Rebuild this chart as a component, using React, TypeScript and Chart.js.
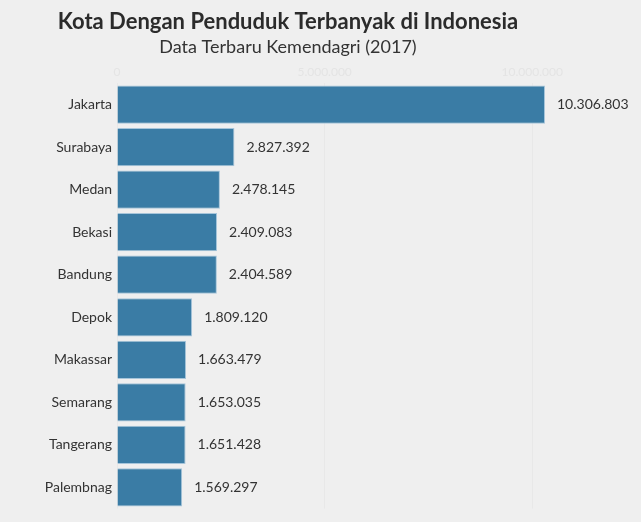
import { useEffect, useRef } from 'react';
import { Chart, registerables } from 'chart.js';

Chart.register(...registerables);

const cities = [
  'Jakarta',
  'Surabaya',
  'Medan',
  'Bekasi',
  'Bandung',
  'Depok',
  'Makassar',
  'Semarang',
  'Tangerang',
  'Palembnag',
];
const population = [
  10306803, 2827392, 2478145, 2409083, 2404589, 1809120, 1663479, 1653035, 1651428, 1569297,
];
const tickValues = [0, 5000000, 10000000];

const FONT = 'Lato, "Noto Sans", sans-serif';

// format angka gaya Indonesia: 10.306.803
const fmt = (v: number) => String(Math.round(v)).replace(/\B(?=(\d{3})+(?!\d))/g, '.');

const valueLabels = {
  id: 'valueLabels',
  afterDatasetsDraw(chart: any) {
    const ctx = chart.ctx;
    const meta = chart.getDatasetMeta(0);
    ctx.save();
    ctx.font = `14px ${FONT}`;
    ctx.fillStyle = '#333333';
    ctx.textAlign = 'left';
    ctx.textBaseline = 'middle';
    meta.data.forEach((bar: any, i: number) => {
      ctx.fillText(fmt(population[i]), bar.x + 12, bar.y);
    });
    ctx.restore();
  },
};

export default function App() {
  const chartRef = useRef<HTMLCanvasElement>(null);
  const chartInstance = useRef<Chart | null>(null);

  useEffect(() => {
    if (!chartRef.current) return;
    if (chartInstance.current) chartInstance.current.destroy();
    const ctx = chartRef.current.getContext('2d');
    if (!ctx) return;

    chartInstance.current = new Chart(ctx, {
      type: 'bar',
      data: {
        labels: cities,
        datasets: [
          {
            label: 'Penduduk',
            data: population,
            backgroundColor: '#3a7ca5',
            borderColor: '#a6c5da',
            borderWidth: 1,
            barPercentage: 1,
            categoryPercentage: 0.9,
          },
        ],
      },
      options: {
        indexAxis: 'y',
        responsive: true,
        maintainAspectRatio: false,
        animation: false,
        layout: { padding: { left: 31, right: 96, top: 9, bottom: 13 } },
        plugins: {
          legend: { display: false },
          tooltip: { enabled: false },
          title: {
            display: true,
            text: 'Kota Dengan Penduduk Terbanyak di Indonesia',
            color: '#2b2b2b',
            font: { family: FONT, size: 22, weight: 'bold' },
            padding: { top: 0, bottom: 1 },
          },
          subtitle: {
            display: true,
            text: 'Data Terbaru Kemendagri (2017)',
            color: '#333333',
            font: { family: FONT, size: 18 },
            padding: { top: 0, bottom: 3 },
          },
        },
        scales: {
          x: {
            position: 'top',
            min: 0,
            max: population[0],
            afterBuildTicks: (scale: any) => {
              scale.ticks = tickValues.map((v) => ({ value: v }));
            },
            ticks: {
              color: '#e4e4e4',
              font: { family: FONT, size: 12 },
              padding: 4,
              callback: (v: any) => fmt(Number(v)),
            },
            grid: { color: '#e8e8e8', drawTicks: false },
            border: { display: false },
          },
          y: {
            afterFit: (scale: any) => {
              scale.width = 86;
            },
            ticks: {
              color: '#333333',
              font: { family: FONT, size: 14 },
              padding: 5,
            },
            grid: { display: false, drawTicks: false },
            border: { display: false },
          },
        },
      },
      plugins: [valueLabels],
    });

    return () => {
      if (chartInstance.current) chartInstance.current.destroy();
    };
  }, []);

  return (
    <div style={{ position: 'fixed', inset: 0, background: '#efefef' }}>
      <canvas ref={chartRef} />
    </div>
  );
}
